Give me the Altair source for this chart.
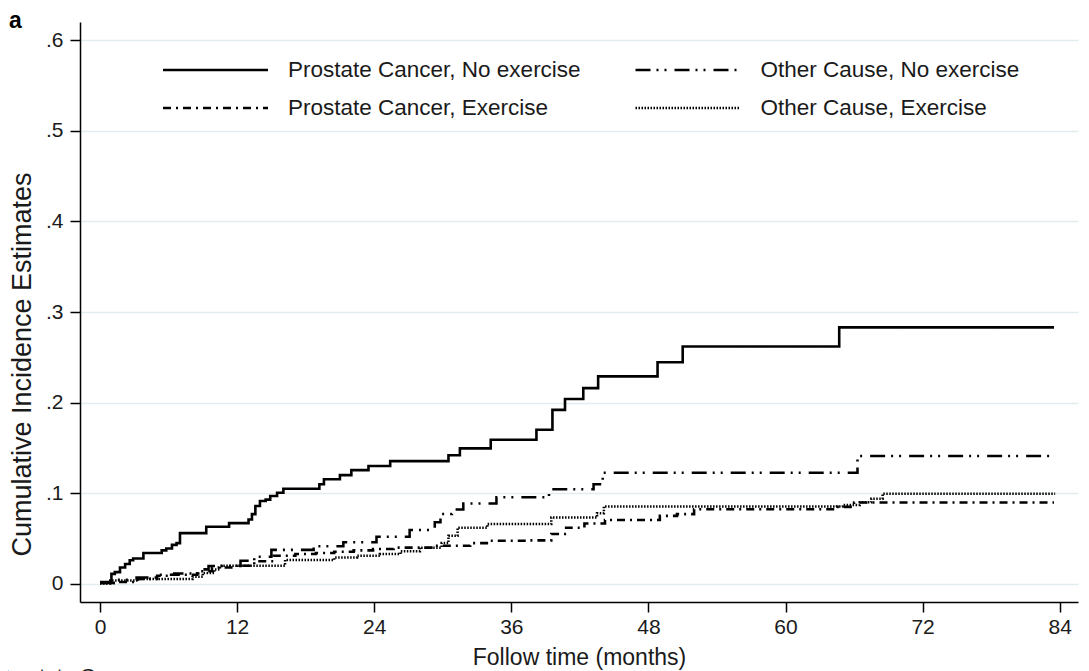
import altair as alt
import pandas as pd

# legend order (filled column by column): col 1 = Prostate Cancer, col 2 = Other Cause
SERIES = [
    "Prostate Cancer, No exercise",
    "Prostate Cancer, Exercise",
    "Other Cause, No exercise",
    "Other Cause, Exercise",
]

# Prostate Cancer, No exercise (solid)
pc_noex_t = [0, 1.0, 1.3, 1.75, 2.2, 2.6, 2.9, 3.8, 5.4, 5.8, 6.3, 6.7, 7.0, 9.3, 11.3, 13.0, 13.3,
             13.6, 14.0, 14.5, 14.9, 15.5, 16.05, 19.2, 19.6, 21.0, 22.0, 23.5, 25.4, 30.5, 31.5,
             34.2, 38.2, 39.6, 40.7, 42.3, 43.6, 48.8, 51.0, 64.7, 83.5]
pc_noex_v = [0.002, 0.011, 0.013, 0.018, 0.022, 0.026, 0.028, 0.034, 0.037, 0.039, 0.043, 0.045,
             0.056, 0.063, 0.067, 0.071, 0.077, 0.086, 0.0915, 0.093, 0.097, 0.1005, 0.105, 0.110,
             0.1155, 0.120, 0.1255, 0.130, 0.1355, 0.142, 0.1495, 0.159, 0.170, 0.192, 0.204,
             0.216, 0.229, 0.2445, 0.262, 0.283, 0.283]

# Prostate Cancer, Exercise (short dash, dot)
pc_ex_t = [0, 1.5, 3.3, 5.0, 6.0, 8.5, 9.8, 12.0, 13.5, 15.2, 17.1, 18.9, 20.5, 22.2, 23.9, 25.7,
           29.2, 32.4, 34.2, 37.4, 39.5, 40.8, 42.4, 44.2, 49.0, 50.5, 52.0, 64.5, 66.0, 83.5]
pc_ex_v = [0.001, 0.002, 0.0055, 0.009, 0.010, 0.014, 0.018, 0.020, 0.025, 0.031, 0.033, 0.034,
           0.0355, 0.037, 0.0385, 0.040, 0.042, 0.045, 0.0476, 0.048, 0.055, 0.062, 0.0667,
           0.0705, 0.075, 0.077, 0.0824, 0.085, 0.0898, 0.0898]

# Other Cause, No exercise (long dash, two dots)
oc_noex_t = [0, 1.5, 3.2, 5.1, 6.5, 8.6, 9.5, 12.3, 13.5, 15.0, 18.7, 21.3, 24.2, 27.1, 29.3,
             29.8, 30.8, 31.8, 34.7, 39.3, 43.2, 44.0, 66.3, 83.6]
oc_noex_v = [0.001, 0.0045, 0.007, 0.010, 0.0115, 0.016, 0.0198, 0.0256, 0.030, 0.0375, 0.0414,
             0.046, 0.052, 0.0595, 0.068, 0.077, 0.082, 0.0887, 0.0955, 0.1044, 0.110, 0.1227,
             0.141, 0.141]

# Other Cause, Exercise (dotted)
oc_ex_t = [0, 0.9, 3.4, 8.1, 9.0, 10.0, 10.5, 16.2, 20.5, 22.5, 24.5, 26.3, 28.0, 29.9, 30.5,
           31.3, 33.9, 39.5, 43.5, 44.1, 65.0, 66.5, 67.5, 68.5, 83.6]
oc_ex_v = [0.0005, 0.0037, 0.0055, 0.008, 0.012, 0.016, 0.020, 0.0264, 0.029, 0.031, 0.033,
           0.036, 0.040, 0.045, 0.053, 0.062, 0.066, 0.0733, 0.078, 0.0854, 0.087, 0.090,
           0.094, 0.0995, 0.0995]

x_ticks = [0, 12, 24, 36, 48, 60, 72, 84]
y_ticks = [0, 0.1, 0.2, 0.3, 0.4, 0.5, 0.6]
panel_label = ["a"]
bottom_label = ["Prostate Cancer"]

rows = []
for name, ts, vs in zip(SERIES,
                        [pc_noex_t, pc_ex_t, oc_noex_t, oc_ex_t],
                        [pc_noex_v, pc_ex_v, oc_noex_v, oc_ex_v]):
    for t, v in zip(ts, vs):
        rows.append({"series": name, "t": t, "v": v})
df = pd.DataFrame(rows)

FONT = "Liberation Sans"
INK = "#1a1a1a"

lines = alt.Chart(df).mark_line(interpolate="step-after", color="black", strokeCap="butt").encode(
    x=alt.X("t:Q",
            scale=alt.Scale(domain=[-1.75, 85.6], nice=False, zero=False),
            axis=alt.Axis(values=x_ticks, title="Follow time (months)", grid=False,
                          labelFontSize=21, titleFontSize=23, tickSize=10, labelPadding=4,
                          titlePadding=9, format="d")),
    y=alt.Y("v:Q",
            scale=alt.Scale(domain=[-0.02, 0.62], nice=False, zero=False),
            axis=alt.Axis(values=y_ticks, title="Cumulative Incidence Estimates",
                          labelExpr="datum.value == 0 ? '0' : replace(format(datum.value, '.1f'), '0.', '.')",
                          labelFontSize=21, titleFontSize=27, tickSize=10, labelPadding=7,
                          grid=True, gridColor="#e2ebed", gridWidth=1.5,
                          titleX=-50, titleY=342, titleAngle=270, titleBaseline="alphabetic",
                          titleAlign="center")),
    strokeDash=alt.StrokeDash(
        "series:N",
        scale=alt.Scale(domain=SERIES,
                        range=[[1, 0], [8, 5, 2, 5], [15, 6, 2, 6, 2, 8], [1.5, 1.5]]),
        legend=alt.Legend(title=None, orient="none", legendX=81.5, legendY=29, columns=2,
                          symbolType="stroke", symbolSize=11025, symbolStrokeWidth=2.5,
                          symbolStrokeColor="black", labelFontSize=22.5, labelFont=FONT,
                          labelColor=INK, labelOffset=18.5, columnPadding=52.5, rowPadding=0,
                          clipHeight=38, padding=0, labelLimit=400)),
    strokeWidth=alt.StrokeWidth("series:N",
                                scale=alt.Scale(domain=SERIES, range=[2.6, 2.5, 2.5, 2.2]),
                                legend=None),
    order="t:Q",
)

a_text = alt.Chart(pd.DataFrame({"label": panel_label})).mark_text(
    font=FONT, fontSize=23, fontWeight="bold", align="left", baseline="alphabetic", color="black"
).encode(text="label:N", x=alt.value(-71), y=alt.value(6))

pc_text = alt.Chart(pd.DataFrame({"label": bottom_label})).mark_text(
    font=FONT, fontSize=21, align="left", baseline="alphabetic", color=INK
).encode(text="label:N", x=alt.value(-84), y=alt.value(661))

chart = alt.layer(lines, a_text, pc_text).properties(
    width=998, height=580,
    autosize=alt.AutoSizeParams(type="none"),
    padding={"left": 72, "top": 14, "right": 3, "bottom": 100},
    background="white",
).configure_view(stroke=None).configure_axis(
    domainColor="black", domainWidth=1.5, tickColor="black", tickWidth=1.5,
    labelFont=FONT, titleFont=FONT, labelColor=INK, titleColor=INK, titleFontWeight="normal",
)

chart.save("out.html", embed_options={"renderer": "svg", "actions": False})
